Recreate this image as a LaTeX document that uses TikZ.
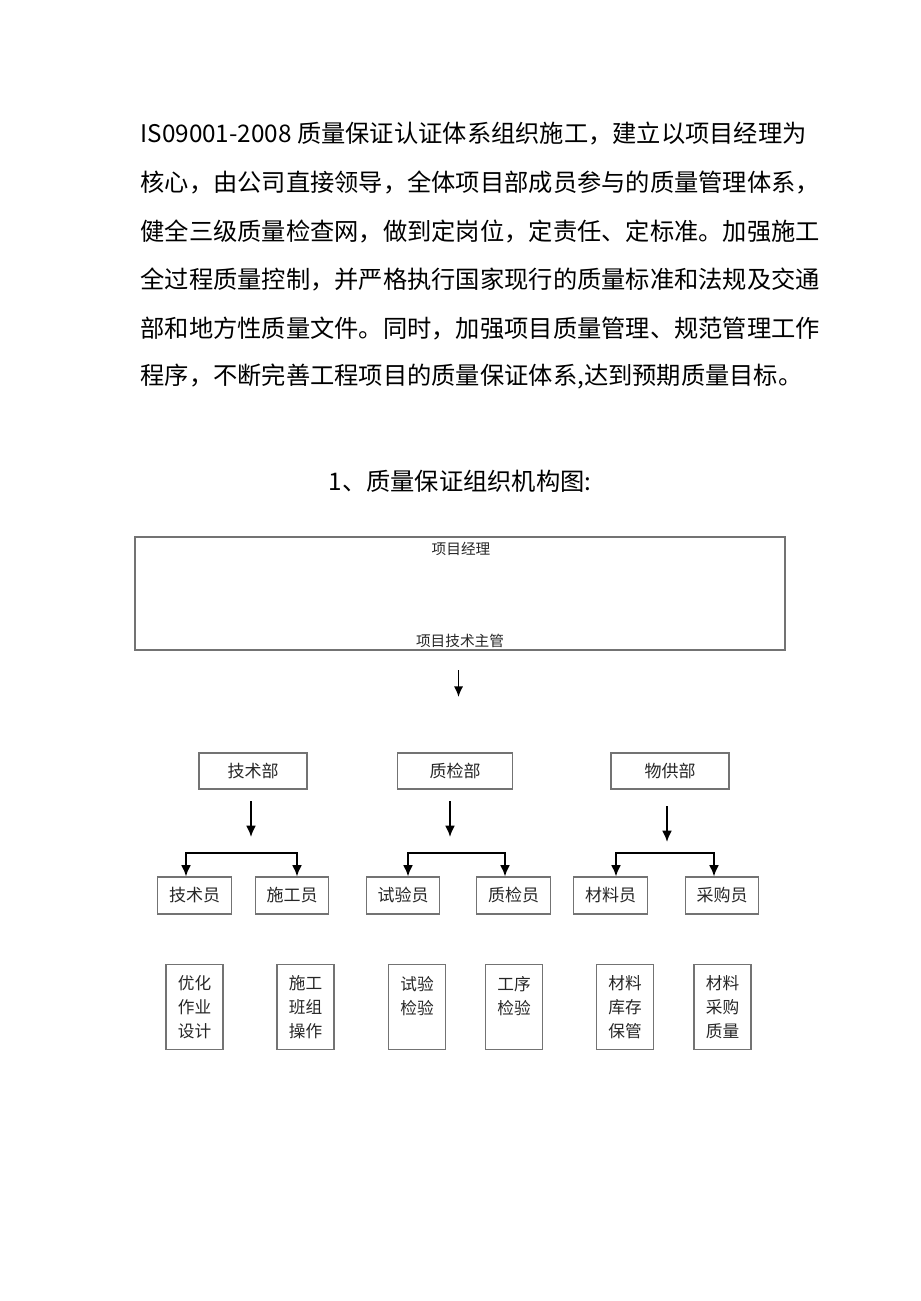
\documentclass[tikz,border=0pt]{standalone}
\usepackage{fontspec}
\setmainfont{Noto Sans CJK SC}
\usetikzlibrary{arrows.meta}

\tikzset{every picture/.style={line width=0.75pt}}
\tikzset{
  boxline/.style={draw=black!55, line width=0.8pt, text=black!85, inner sep=0pt},
  deptbox/.style={boxline, minimum height=27pt, font=\fontsize{12.75}{14}\selectfont},
  staffbox/.style={boxline, minimum width=55pt, minimum height=27.75pt, font=\fontsize{12.75}{14}\selectfont},
  taskbox/.style={boxline, minimum width=42.75pt, minimum height=63.75pt, align=center, font=\fontsize{12.5}{18}\selectfont},
  bodyline/.style={anchor=west, inner sep=0pt, font=\fontsize{18.2}{20}\selectfont},
  arr/.style={line width=1.5pt, -{Latex[length=8.5pt,width=7.5pt]}},
  arrtwo/.style={line width=1.5pt, {Latex[length=8.5pt,width=7.5pt]}-{Latex[length=8.5pt,width=7.5pt]}, line join=miter},
  toparr/.style={line width=1.2pt, -{Latex[length=8pt,width=7pt]}}
}

\begin{document}
\begin{tikzpicture}[x=0.75pt,y=0.75pt,yscale=-1,xscale=1]
\useasboundingbox (0,0) rectangle (920,1301);

% paragraph
\node[bodyline] (p1) at (140,134) {IS09001-2008 质量保证认证体系组织施工，建立以项目经理为};
\node[bodyline] (p2) at (140,182.6) {核心，由公司直接领导，全体项目部成员参与的质量管理体系，};
\node[bodyline] (p3) at (140,231.2) {健全三级质量检查网，做到定岗位，定责任、定标准。加强施工};
\node[bodyline] (p4) at (140,279.8) {全过程质量控制，并严格执行国家现行的质量标准和法规及交通};
\node[bodyline] (p5) at (140,328.4) {部和地方性质量文件。同时，加强项目质量管理、规范管理工作};
\node[bodyline] (p6) at (140,377) {程序，不断完善工程项目的质量保证体系,达到预期质量目标。};

% title
\node[inner sep=0pt, font=\fontsize{18.2}{20}\selectfont] (ttl) at (460,481) {1、质量保证组织机构图:};

% project manager box
\node[boxline, minimum width=487.5pt, minimum height=84.75pt] (pm) at (460,593.5) {};
\node[inner sep=0pt, font=\fontsize{11}{13}\selectfont, text=black!85] (pmt) at (461,549) {项目经理};
\node[inner sep=0pt, font=\fontsize{11}{13}\selectfont, text=black!85] (pmb) at (460,641) {项目技术主管};
\coordinate (a0) at (458.5,670);
\draw[toparr] (a0) -- ++(0,27);

% departments
\node[deptbox, minimum width=81pt] (jsb) at (253,771) {技术部};
\node[deptbox, minimum width=86.25pt] (zjb) at (455,771) {质检部};
\node[deptbox, minimum width=88.5pt] (wgb) at (670,771) {物供部};

% staff
\node[staffbox] (jsy) at (194.5,895.5) {技术员};
\node[staffbox] (sgy) at (292,895.5) {施工员};
\node[staffbox] (syy) at (403,895.5) {试验员};
\node[staffbox] (zjy) at (513.5,895.5) {质检员};
\node[staffbox] (cly) at (610.5,895.5) {材料员};
\node[staffbox] (cgy) at (722,895.5) {采购员};

% tasks
\node[taskbox] (rw1) at (194.5,1007) {优化\\作业\\设计};
\node[taskbox] (rw2) at (305.5,1007) {施工\\班组\\操作};
\node[taskbox] (rw3) at (417,1007) {试验\\检验\\\mbox{}};
\node[taskbox] (rw4) at (514,1007) {工序\\检验\\\mbox{}};
\node[taskbox] (rw5) at (625,1007) {材料\\库存\\保管};
\node[taskbox] (rw6) at (722.5,1007) {材料\\采购\\质量};

% department arrows
\coordinate (d1) at (251,801);
\coordinate (d2) at (450,801);
\coordinate (d3) at (667,806);
\draw[arr] (d1) -- ++(0,36);
\draw[arr] (d2) -- ++(0,36);
\draw[arr] (d3) -- ++(0,36);

% branches
\coordinate (k1) at (186,853);
\coordinate (k2) at (297,853);
\coordinate (k3) at (408,853);
\coordinate (k4) at (505,853);
\coordinate (k5) at (616,853);
\coordinate (k6) at (714,853);
\draw[arrtwo] (jsy.north -| k1) -- (k1) -- (k2) -- (sgy.north -| k2);
\draw[arrtwo] (syy.north -| k3) -- (k3) -- (k4) -- (zjy.north -| k4);
\draw[arrtwo] (cly.north -| k5) -- (k5) -- (k6) -- (cgy.north -| k6);

\end{tikzpicture}
\end{document}
